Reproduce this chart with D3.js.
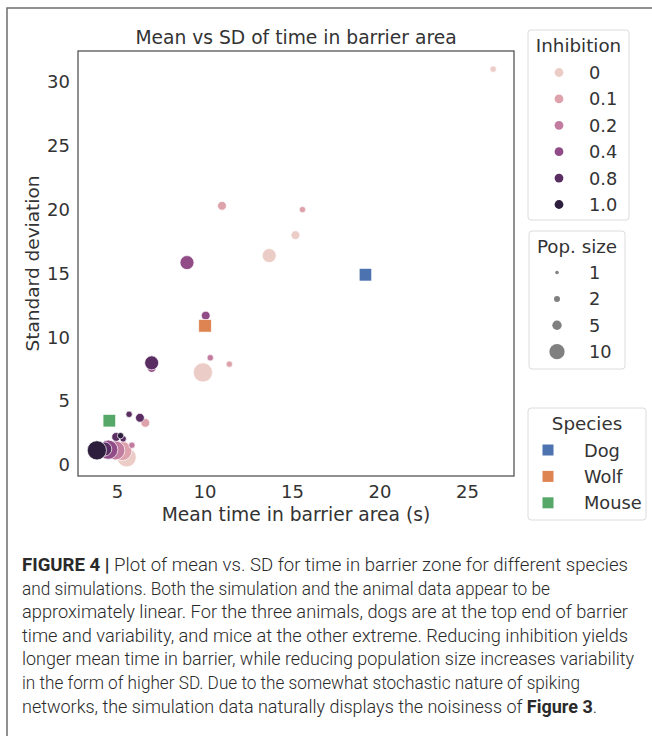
<!DOCTYPE html>
<html><head><meta charset="utf-8">
<script src="https://cdn.jsdelivr.net/npm/d3@7"></script>
<style>
html,body{margin:0;padding:0;background:#fff;}
svg{display:block;}
</style></head>
<body>
<svg id="chart" width="652" height="736"></svg>
<script>
// ---- data ----
const inhibitionLevels = [0, 0.1, 0.2, 0.4, 0.8, 1.0];
const inhibitionLabels = ["0", "0.1", "0.2", "0.4", "0.8", "1.0"];
const inhibitionColors = ["#ecccc6", "#dda2ab", "#c27c9f", "#914c88", "#5a2d63", "#2d1e3e"];
const popSizes = [1, 2, 5, 10];
const popLabels = ["1", "2", "5", "10"];
const speciesNames = ["Dog", "Wolf", "Mouse"];
const speciesColors = ["#4c72b0", "#dd8452", "#55a868"];
const speciesMean = [19.2, 10.03, 4.56];
const speciesSD = [14.9, 10.9, 3.47];

// simulation points
const simInhibition = [0, 0.1, 0.1, 0, 0, 0.4, 0.4, 0.4, 0.8, 0.2, 0.1, 0, 0.8, 0.8, 0.1,
                       0, 0.1, 0.2, 0.4, 0.8, 1.0, 1.0, 0.8, 0.8, 0.2];
const simPop =        [1, 2, 1, 2, 5, 5, 2, 2, 5, 1, 1, 10, 1, 2, 2,
                       10, 10, 10, 10, 5, 10, 1, 2, 1, 1];
const simMean =       [26.5, 11.0, 15.6, 15.2, 13.7, 9.0, 10.07, 6.98, 6.98, 10.33, 11.42, 9.91, 5.69, 6.31, 6.62,
                       5.55, 5.3, 4.9, 4.5, 4.3, 3.85, 5.2, 4.95, 5.35, 5.85];
const simSD =         [31.0, 20.3, 20.0, 18.0, 16.4, 15.85, 11.7, 7.6, 8.0, 8.4, 7.9, 7.25, 3.97, 3.7, 3.3,
                       0.6, 1.1, 1.15, 1.2, 1.25, 1.15, 2.3, 2.2, 2.05, 1.55];

const xTicks = [5, 10, 15, 20, 25];
const yTicks = [0, 5, 10, 15, 20, 25, 30];

const captionLines = [
  [["FIGURE 4 | ", true], ["Plot of mean vs. SD for time in barrier zone for different species", false]],
  [["and simulations. Both the simulation and the animal data appear to be", false]],
  [["approximately linear. For the three animals, dogs are at the top end of barrier", false]],
  [["time and variability, and mice at the other extreme. Reducing inhibition yields", false]],
  [["longer mean time in barrier, while reducing population size increases variability", false]],
  [["in the form of higher SD. Due to the somewhat stochastic nature of spiking", false]],
  [["networks, the simulation data naturally displays the noisiness of ", false], ["Figure 3", true], [".", false]]
];
const captionWidths = [606, 528, 606, 606, 612, 558, 575];

// ---- drawing ----
const svg = d3.select("#chart");
const FONT = "DejaVu Sans, sans-serif";
const TXT = "#333";

// frame
svg.append("rect").attr("x", 7).attr("y", 8).attr("width", 700).attr("height", 760)
  .attr("fill", "none").attr("stroke", "#6e6e6e").attr("stroke-width", 1.5);

const plot = {left: 78, top: 51, right: 514, bottom: 476};
const x = d3.scaleLinear().domain([2.77, 27.69]).range([plot.left, plot.right]);
const y = d3.scaleLinear().domain([-0.86, 32.42]).range([plot.bottom, plot.top]);

const color = d3.scaleOrdinal().domain(inhibitionLevels).range(inhibitionColors);
const rPlot = d3.scaleOrdinal().domain(popSizes).range([3.2, 4.4, 7, 9.6]);
const rLegend = d3.scaleOrdinal().domain(popSizes).range([1.8, 3.0, 4.7, 7.6]);

// axes (labels only, no tick lines)
const gx = svg.append("g").attr("transform", `translate(0,${plot.bottom})`)
  .call(d3.axisBottom(x).tickValues(xTicks).tickSize(0).tickPadding(9).tickFormat(d3.format("d")));
gx.select(".domain").remove();
gx.selectAll("text").attr("font-family", FONT).attr("font-size", 18).attr("fill", TXT);

const gy = svg.append("g").attr("transform", `translate(${plot.left},0)`)
  .call(d3.axisLeft(y).tickValues(yTicks).tickSize(0).tickPadding(8).tickFormat(d3.format("d")));
gy.select(".domain").remove();
gy.selectAll("text").attr("font-family", FONT).attr("font-size", 18).attr("fill", TXT);

// plot frame
svg.append("rect").attr("x", plot.left).attr("y", plot.top)
  .attr("width", plot.right - plot.left).attr("height", plot.bottom - plot.top)
  .attr("fill", "none").attr("stroke", "#555").attr("stroke-width", 1.3);

// simulation points (lighter first, darker on top)
const sim = simMean.map((m, i) => ({m, s: simSD[i], inh: simInhibition[i], pop: simPop[i]}))
  .sort((a, b) => a.inh - b.inh);
svg.append("g").selectAll("circle").data(sim).join("circle")
  .attr("cx", d => x(d.m)).attr("cy", d => y(d.s)).attr("r", d => rPlot(d.pop))
  .attr("fill", d => color(d.inh)).attr("stroke", "#fff").attr("stroke-width", 0.7);

// species squares
const sq = 12.5;
const species = speciesNames.map((n, i) => ({n, m: speciesMean[i], s: speciesSD[i], c: speciesColors[i]}));
svg.append("g").selectAll("rect").data(species).join("rect")
  .attr("x", d => x(d.m) - sq / 2).attr("y", d => y(d.s) - sq / 2)
  .attr("width", sq).attr("height", sq)
  .attr("fill", d => d.c).attr("stroke", "#fff").attr("stroke-width", 0.6);

// titles
svg.append("text").attr("x", (plot.left + plot.right) / 2).attr("y", 44)
  .attr("text-anchor", "middle").attr("font-family", FONT).attr("font-size", 18.7).attr("fill", TXT)
  .text("Mean vs SD of time in barrier area");
svg.append("text").attr("x", (plot.left + plot.right) / 2).attr("y", 521)
  .attr("text-anchor", "middle").attr("font-family", FONT).attr("font-size", 18.7).attr("fill", TXT)
  .text("Mean time in barrier area (s)");
svg.append("text").attr("transform", `translate(39,${(plot.top + plot.bottom) / 2}) rotate(-90)`)
  .attr("text-anchor", "middle").attr("font-family", FONT).attr("font-size", 18.5).attr("fill", TXT)
  .text("Standard deviation");

// legends
function legendBox(x0, y0, w, h) {
  svg.append("rect").attr("x", x0).attr("y", y0).attr("width", w).attr("height", h)
    .attr("rx", 3).attr("fill", "#fff").attr("stroke", "#dcdcdc").attr("stroke-width", 1);
}
function legendTitle(cx, yb, t) {
  svg.append("text").attr("x", cx).attr("y", yb).attr("text-anchor", "middle")
    .attr("font-family", FONT).attr("font-size", 18.3).attr("fill", TXT).text(t);
}
const step = 26.4;
const LFS = 17.8;
// Inhibition
legendBox(528, 30, 101, 190);
legendTitle(578.5, 52, "Inhibition");
inhibitionLevels.forEach((v, i) => {
  const yy = 72.5 + i * step;
  svg.append("circle").attr("cx", 559).attr("cy", yy).attr("r", 4.4).attr("fill", color(v));
  svg.append("text").attr("x", 589).attr("y", yy + 6.5).attr("font-family", FONT)
    .attr("font-size", LFS).attr("fill", TXT).text(inhibitionLabels[i]);
});
// Pop. size
legendBox(529, 231, 96, 138);
legendTitle(577, 253, "Pop. size");
popSizes.forEach((v, i) => {
  const yy = 272.5 + i * step;
  svg.append("circle").attr("cx", 557).attr("cy", yy).attr("r", rLegend(v)).attr("fill", "#808080");
  svg.append("text").attr("x", 589).attr("y", yy + 6.5).attr("font-family", FONT)
    .attr("font-size", LFS).attr("fill", TXT).text(popLabels[i]);
});
// Species
legendBox(528, 408, 118, 112);
legendTitle(587, 430, "Species");
species.forEach((d, i) => {
  const yy = 450 + i * step;
  svg.append("rect").attr("x", 548 - 5.5).attr("y", yy - 5.5).attr("width", 11).attr("height", 11).attr("fill", d.c);
  svg.append("text").attr("x", 584).attr("y", yy + 6.5).attr("font-family", FONT)
    .attr("font-size", LFS).attr("fill", TXT).text(d.n);
});

// caption
const capFont = "'Liberation Sans Narrow', 'Roboto', 'Liberation Sans', Arial, sans-serif";
captionLines.forEach((parts, i) => {
  const t = svg.append("text").attr("x", 22).attr("y", 571 + i * 23.6)
    .attr("font-family", capFont).attr("font-size", 18).attr("fill", "#2a2a2a")
    .attr("textLength", captionWidths[i]).attr("lengthAdjust", "spacingAndGlyphs");
  parts.forEach(([s, b]) => {
    t.append("tspan").attr("font-weight", b ? "bold" : "300").text(s);
  });
});
</script>
</body></html>
